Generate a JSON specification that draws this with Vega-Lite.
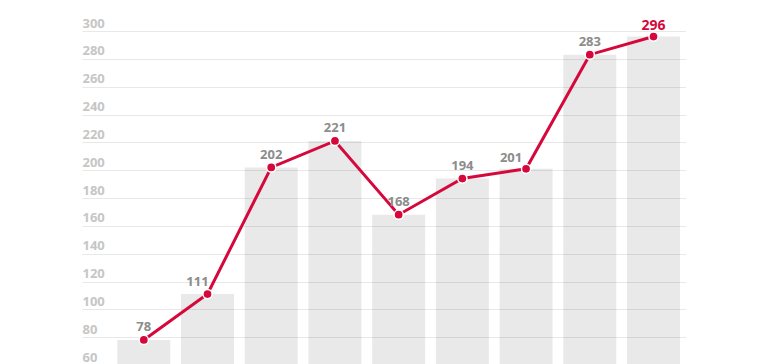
{
  "$schema": "https://vega.github.io/schema/vega-lite/v6.json",
  "autosize": {"type": "none"},
  "padding": {"left": 82, "top": 31, "right": 0, "bottom": 0},
  "width": 604,
  "height": 334,
  "background": "white",
  "config": {"view": {"stroke": null}},
  "data": {"values": [
    {"i": 1, "v": 78},
    {"i": 2, "v": 111},
    {"i": 3, "v": 202},
    {"i": 4, "v": 221},
    {"i": 5, "v": 168},
    {"i": 6, "v": 194},
    {"i": 7, "v": 201},
    {"i": 8, "v": 283},
    {"i": 9, "v": 296}
  ]},
  "encoding": {
    "x": {"field": "i", "type": "ordinal", "axis": null,
          "scale": {"type": "band", "paddingInner": 0.168, "paddingOuter": 0.324, "align": 0.855}},
    "y": {"field": "v", "type": "quantitative",
          "scale": {"domain": [60, 300], "nice": false, "zero": false},
          "axis": {"title": null, "domain": false, "ticks": false, "tickSize": 0,
                   "values": [60, 80, 100, 120, 140, 160, 180, 200, 220, 240, 260, 280, 300],
                   "labelAlign": "left", "labelPadding": 0, "labelBaseline": "alphabetic", "labelOffset": -4,
                   "labelFont": "Open Sans", "labelFontWeight": "bold", "labelFontSize": 13, "labelColor": "#c6c6c6",
                   "gridColor": "#e8e8e8", "gridWidth": 1}}
  },
  "layer": [
    {"mark": {"type": "bar", "color": "#000000", "opacity": 0.085}},
    {"mark": {"type": "line", "color": "#d6083b", "strokeWidth": 3}},
    {"mark": {"type": "point", "filled": true, "fill": "#d6083b", "stroke": "white", "strokeWidth": 1.5, "size": 85, "opacity": 1}},
    {"transform": [{"filter": "datum.i != 2 && datum.i != 7 && datum.i != 9"}],
     "mark": {"type": "text", "dy": -8.5, "baseline": "alphabetic", "align": "center", "font": "Open Sans", "fontWeight": "bold", "fontSize": 13, "color": "#8c8c8c"},
     "encoding": {"text": {"field": "v", "type": "quantitative"}}},
    {"transform": [{"filter": "datum.i == 2"}],
     "mark": {"type": "text", "dy": -8.5, "dx": -10, "baseline": "alphabetic", "align": "center", "font": "Open Sans", "fontWeight": "bold", "fontSize": 13, "color": "#8c8c8c"},
     "encoding": {"text": {"field": "v", "type": "quantitative"}}},
    {"transform": [{"filter": "datum.i == 7"}],
     "mark": {"type": "text", "dy": -6.5, "dx": -15, "baseline": "alphabetic", "align": "center", "font": "Open Sans", "fontWeight": "bold", "fontSize": 13, "color": "#8c8c8c"},
     "encoding": {"text": {"field": "v", "type": "quantitative"}}},
    {"transform": [{"filter": "datum.i == 9"}],
     "mark": {"type": "text", "dy": -7, "baseline": "alphabetic", "align": "center", "font": "Open Sans", "fontWeight": "bold", "fontSize": 14, "color": "#d6083b"},
     "encoding": {"text": {"field": "v", "type": "quantitative"}}}
  ]
}
